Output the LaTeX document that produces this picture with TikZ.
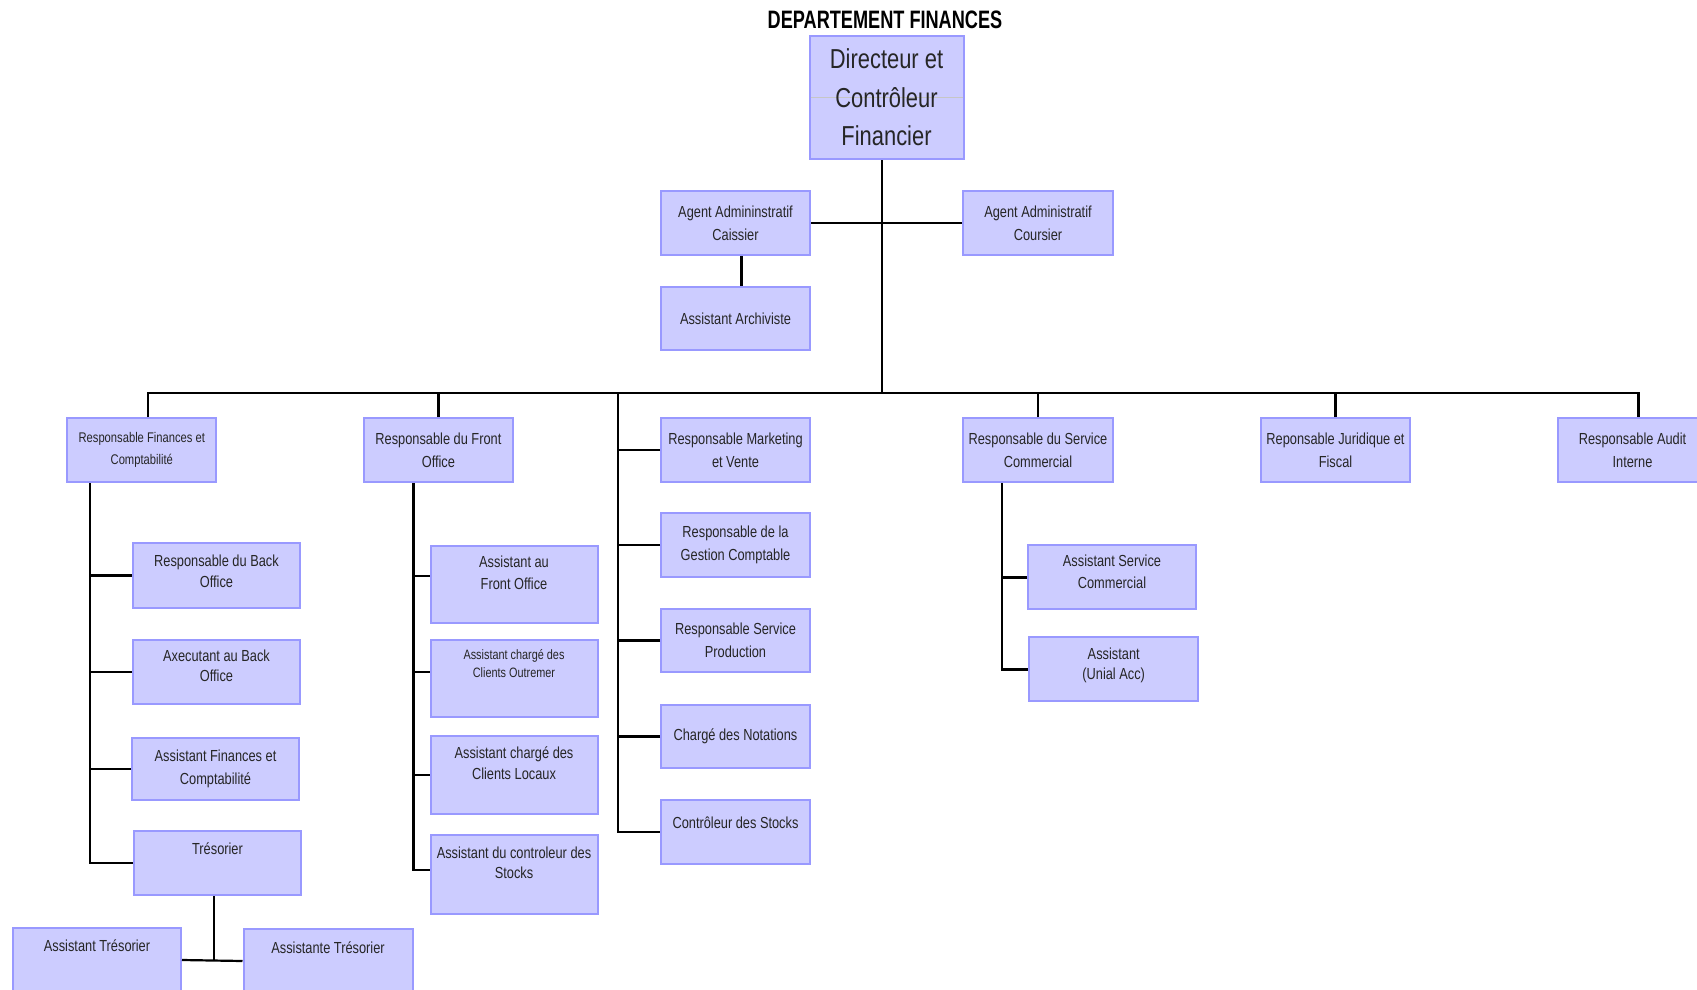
\documentclass[tikz,border=0pt]{standalone}
\usepackage{fontspec}
\setmainfont{Liberation Sans}[FakeStretch=0.8]
\newfontfamily\titlefont{Liberation Sans}[FakeStretch=0.72]
\usepackage{xcolor}
\usepackage{tikz}
\usetikzlibrary{positioning,calc}

\definecolor{boxfill}{HTML}{CCCCFF}
\definecolor{boxline}{HTML}{9999FF}

\tikzset{
  box/.style={draw=boxline, fill=boxfill, line width=1pt, inner sep=2pt,
    align=center, text=black!85, font=\fontsize{8}{11.5}\selectfont},
  boxsize/.style 2 args={minimum width=#1, minimum height=#2},
  up/.style={text depth=#1},
  link/.style={line width=1.1pt, black},
}

\begin{document}
\begin{tikzpicture}[x=0.5pt, y=-0.5pt]
  \useasboundingbox (0,0) rectangle (1697,990);
  % title and director
  \node[font=\titlefont\bfseries\fontsize{12.6}{14}\selectfont] (title) at (885,20) {DEPARTEMENT FINANCES};
  \node[box, boxsize={77pt}{61.5pt}, font=\fontsize{13.7}{19.2}\selectfont,
    path picture={\draw[gray!45, line width=0.5pt] (path picture bounding box.west) -- (path picture bounding box.east);}]
    (dir) at (886.5,97.5) {Directeur et\\Contrôleur\\Financier};
  % staff
  \node[box, boxsize={74.5pt}{32pt}] (caiss) at (735.5,223) {Agent Admininstratif\\Caissier};
  \node[box, boxsize={75pt}{32pt}] (cours) at (1038,223) {Agent Administratif\\Coursier};
  \node[box, boxsize={74.5pt}{31.5pt}] (arch) at (735.5,318.5) {Assistant Archiviste};
  % heads of service
  \node[box, boxsize={74.5pt}{32pt}, font=\fontsize{7}{10.8}\selectfont] (rfin) at (141.8,450) {Responsable Finances et\\Comptabilité};
  \node[box, boxsize={74.5pt}{32pt}] (rfront) at (438.4,450) {Responsable du Front\\Office};
  \node[box, boxsize={74.5pt}{32pt}] (rmark) at (735.5,450) {Responsable Marketing\\et Vente};
  \node[box, boxsize={75pt}{32pt}] (rcom) at (1038,450) {Responsable du Service\\Commercial};
  \node[box, boxsize={74.5pt}{32pt}] (rjur) at (1335.5,450) {Reponsable Juridique et\\Fiscal};
  \node[box, boxsize={74.5pt}{32pt}] (raudit) at (1632.5,450) {Responsable Audit\\Interne};
  % marketing column
  \node[box, boxsize={74.5pt}{32pt}] (gest) at (735.5,545) {Responsable de la\\Gestion Comptable};
  \node[box, boxsize={74.5pt}{31.5pt}] (prod) at (735.5,640.5) {Responsable Service\\Production};
  \node[box, boxsize={74.5pt}{31.5pt}] (notat) at (735.5,736.5) {Chargé des Notations};
  \node[box, boxsize={74.5pt}{32pt}, up=9.5pt] (cstock) at (735.5,832) {Contrôleur des Stocks};
  % finances column
  \node[box, boxsize={83.5pt}{32.5pt}, up=4.5pt, font=\fontsize{8}{10.3}\selectfont] (back) at (216.5,575.5) {Responsable du Back\\Office};
  \node[box, boxsize={83.5pt}{32pt}, up=6pt, font=\fontsize{8}{10.3}\selectfont] (axec) at (216.5,671.7) {Axecutant au Back\\Office};
  \node[box, boxsize={83.5pt}{31pt}, font=\fontsize{8}{11.8}\selectfont] (afc) at (215.5,769) {Assistant Finances et\\Comptabilité};
  \node[box, boxsize={83.5pt}{32pt}, up=14.5pt] (treso) at (217.5,863) {Trésorier};
  \node[box, boxsize={84pt}{32.5pt}, up=14.5pt] (atreso) at (97,960) {Assistant Trésorier};
  \node[box, boxsize={84.5pt}{32.5pt}, up=13.5pt] (btreso) at (328,961) {Assistante Trésorier};
  % front office column
  \node[box, boxsize={83.5pt}{38.5pt}, up=11.5pt, font=\fontsize{8}{10.8}\selectfont] (afo) at (514,584) {Assistant au\\Front Office};
  \node[box, boxsize={83.5pt}{38.5pt}, up=14.5pt, font=\fontsize{6.8}{8.7}\selectfont] (outre) at (514,678) {Assistant chargé des\\Clients Outremer};
  \node[box, boxsize={83.5pt}{39pt}, up=12pt, font=\fontsize{8}{10.8}\selectfont] (locaux) at (514,775) {Assistant chargé des\\Clients Locaux};
  \node[box, boxsize={83.5pt}{39.5pt}, up=11.5pt, font=\fontsize{8}{10.3}\selectfont] (asto) at (514,874) {Assistant du controleur des\\Stocks};
  % commercial column
  \node[box, boxsize={84pt}{32pt}, up=5.5pt, font=\fontsize{8}{10.8}\selectfont] (asc) at (1112,577.4) {Assistant Service\\Commercial};
  \node[box, boxsize={84.5pt}{32pt}, up=5.5pt, font=\fontsize{8}{10}\selectfont] (unial) at (1113.7,669.4) {Assistant\\(Unial Acc)};

  % trunk and bus
  \coordinate (bus) at (882,393);
  \coordinate (fcol) at (90,0);
  \coordinate (tcol) at (214,0);
  \coordinate (frcol) at (413.5,0);
  \coordinate (mcol) at (618,0);
  \coordinate (ccol) at (1002,0);
  \draw[link] (dir.south -| bus) -- (bus);
  \draw[link] (caiss.east) -- (cours.west);
  \draw[link] ([xshift=3pt]caiss.south) -- ([xshift=3pt]arch.north);
  \draw[link] ([xshift=3pt]rfin.north) -- ([xshift=3pt]rfin.north |- bus) -- ([xshift=3pt]raudit.north |- bus) -- ([xshift=3pt]raudit.north);
  \foreach \n in {rfront,rcom,rjur}
    \draw[link] (\n.north) -- (\n.north |- bus);
  % columns
  \draw[link] (mcol |- bus) |- (cstock.west);
  \foreach \n in {rmark,gest,prod,notat}
    \draw[link] (\n.west) -- (\n.west -| mcol);
  \draw[link] (rfin.south -| fcol) |- (treso.west);
  \foreach \n in {back,axec,afc}
    \draw[link] (\n.west) -- (\n.west -| fcol);
  \draw[link] (treso.south -| tcol) -- (tcol |- atreso.east);
  \draw[link] (atreso.east) -- (btreso.west);
  \draw[link] (rfront.south -| frcol) |- ([yshift=2pt]asto.west);
  \draw[link] ([yshift=4pt]afo.west) -- ([yshift=4pt]afo.west -| frcol);
  \draw[link] ([yshift=3pt]outre.west) -- ([yshift=3pt]outre.west -| frcol);
  \draw[link] (locaux.west) -- (locaux.west -| frcol);
  \draw[link] (rcom.south -| ccol) |- (unial.west);
  \draw[link] (asc.west) -- (asc.west -| ccol);
\end{tikzpicture}
\end{document}
